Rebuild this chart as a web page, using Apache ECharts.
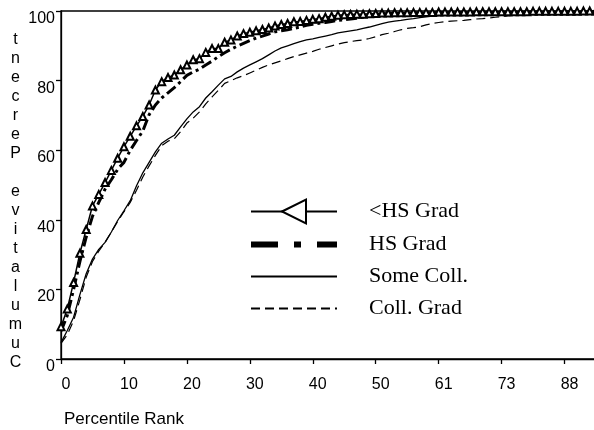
<!DOCTYPE html>
<html>
<head>
<meta charset="utf-8">
<script src="https://cdn.jsdelivr.net/npm/echarts@6/dist/echarts.min.js"></script>
<style>
  html, body { margin: 0; padding: 0; background: #fff; }
  #chart { width: 594px; height: 430px; }
</style>
</head>
<body>
<div id="chart"></div>
<script>
// Percentile rank categories (distinct ranks present in the data)
const percentileRanks = [
  0, 1, 2, 3, 4, 5, 6, 7, 8, 9,
  10, 11, 12, 13, 14, 15, 16, 17, 18, 19,
  20, 21, 22, 23, 24, 25, 26, 27, 28, 29,
  30, 31, 32, 33, 34, 35, 36, 37, 38, 39,
  40, 41, 42, 43, 44, 45, 46, 47, 48, 49,
  50, 51, 52, 53, 54, 55, 56, 57, 58, 59,
  61, 62, 63, 64, 66, 67, 68, 69, 70, 72,
  73, 74, 75, 77, 78, 80, 81, 83, 84, 86,
  88, 89, 91, 93, 95, 97
];

const seriesNames = ['<HS Grad', 'HS Grad', 'Some Coll.', 'Coll. Grad'];

// Cumulative percent by education group
const lessThanHS = [
  9.3, 14.4, 22, 30.4, 37.2, 44, 47.3, 50.7, 54.2, 57.7,
  61, 64, 67, 69.7, 73, 77.3, 79.7, 80.9, 81.6, 83.1,
  84.5, 86, 86.3, 88.1, 89.2, 89.2, 91, 91.7, 92.8, 93.5,
  93.9, 94.3, 94.7, 95.1, 95.7, 96.1, 96.4, 96.9, 97, 97.3,
  97.6, 97.8, 98.2, 98.5, 98.8, 98.9, 99, 99.1, 99.1, 99.2,
  99.3, 99.4, 99.4, 99.5, 99.5, 99.5, 99.6, 99.6, 99.6, 99.6,
  99.7, 99.7, 99.7, 99.7, 99.7, 99.7, 99.8, 99.8, 99.8, 99.8,
  99.8, 99.8, 99.8, 99.8, 99.8, 99.9, 99.9, 99.9, 99.9, 99.9,
  99.9, 99.9, 99.9, 100, 100, 100
];
const hsGrad = [
  8, 12.5, 20, 28, 35, 41, 45, 48.8, 51.5, 54.5,
  56.5, 60, 62.8, 65.5, 70.2, 73, 75, 76.5, 78, 79.7,
  81.5, 82.5, 83.3, 84.5, 85.6, 86.9, 88, 89, 89.9, 90.7,
  91.5, 92.2, 92.8, 93.4, 94, 94.3, 94.6, 95, 95.4, 95.9,
  96.2, 96.5, 96.7, 97, 97.3, 97.5, 97.7, 97.9, 98.2, 98.6,
  98.9, 99.1, 99.2, 99.3, 99.3, 99.4, 99.4, 99.5, 99.5, 99.5,
  99.5, 99.5, 99.6, 99.6, 99.6, 99.6, 99.6, 99.6, 99.7, 99.7,
  99.7, 99.7, 99.7, 99.7, 99.7, 99.7, 99.8, 99.8, 99.8, 99.8,
  99.8, 99.8, 99.8, 99.8, 99.8, 99.8
];
const someColl = [
  4.7, 8.2, 12, 18.5, 24.5, 28.7, 31.5, 33.5, 36.5, 39.8,
  42.6, 45.5, 49.8, 53.5, 56.5, 59.5, 62, 63.2, 64.3, 66.7,
  69, 71, 72.5, 75, 76.8, 78.7, 80.5, 81.2, 82.5, 83.6,
  84.5, 85.4, 86.3, 87.4, 88.5, 89.4, 90, 90.6, 91.2, 91.7,
  92, 92.4, 92.8, 93.2, 93.7, 94, 94.3, 94.6, 95, 95.4,
  95.9, 96.4, 96.8, 97.1, 97.3, 97.6, 97.8, 98.1, 98.3, 98.5,
  98.7, 98.9, 99, 99, 99.1, 99.1, 99.2, 99.2, 99.3, 99.3,
  99.3, 99.4, 99.4, 99.4, 99.5, 99.5, 99.5, 99.5, 99.6, 99.6,
  99.6, 99.6, 99.7, 99.7, 99.7, 99.7
];
const collGrad = [
  4.5, 7, 11, 17, 23.5, 28, 31, 33.5, 36.5, 39.5,
  42.3, 45, 48.5, 52.3, 55.5, 58.5, 61.3, 62.6, 63.3, 65.3,
  67.8, 69.2, 71, 73.3, 75.3, 77.2, 79.2, 80, 80.8, 81.4,
  82.2, 83, 83.8, 84.5, 85.1, 85.7, 86.3, 86.9, 87.4, 87.9,
  88.4, 89, 89.5, 90, 90.5, 90.9, 91.2, 91.5, 91.7, 92.1,
  92.6, 93.2, 93.6, 94.1, 94.6, 95, 95.2, 95.5, 96, 96.4,
  96.7, 96.9, 97.1, 97.2, 97.3, 97.5, 97.7, 97.8, 98, 98.2,
  98.4, 98.6, 98.8, 98.9, 99.1, 99.3, 99.4, 99.5, 99.5, 99.6,
  99.6, 99.6, 99.7, 99.7, 99.7, 99.7
];

// Y axis title, one letter per line, read from bottom to top
const yAxisTitle = 't\nn\ne\nc\nr\ne\nP\n\ne\nv\ni\nt\na\nl\nu\nm\nu\nC';
const xAxisTitle = 'Percentile Rank';

const SANS = 'Liberation Sans, Arial, sans-serif';
const SERIF = 'Liberation Serif, Times New Roman, serif';
const INK = '#000';

const chart = echarts.init(document.getElementById('chart'), null, { renderer: 'canvas' });

chart.setOption({
  animation: false,
  backgroundColor: '#fff',
  title: [
    {
      text: xAxisTitle,
      left: 64,
      top: 411,
      padding: 0,
      textStyle: { fontFamily: SANS, fontSize: 17, fontWeight: 'normal', color: INK }
    },
    {
      text: yAxisTitle,
      left: 15.5,
      top: 30.5,
      padding: 0,
      textAlign: 'center',
      textStyle: { fontFamily: SANS, fontSize: 16, lineHeight: 19, fontWeight: 'normal', color: INK }
    }
  ],
  grid: {
    left: 61, top: 11, bottom: 71, right: -2,
    containLabel: false,
    outerBoundsMode: 'none',
    show: true, borderColor: INK, borderWidth: 1.3, backgroundColor: 'transparent'
  },
  legend: {
    orient: 'vertical',
    left: 248,
    top: 198.5,
    padding: 0,
    itemWidth: 86,
    itemHeight: 30,
    itemGap: 8,
    selectedMode: false,
    textStyle: { fontFamily: SERIF, fontSize: 22, color: INK, padding: [0, 0, 0, 27] },
    data: [
      { name: seriesNames[0], symbolRotate: 90, lineStyle: { width: 2 } },
      { name: seriesNames[1], itemStyle: { opacity: 0 }, lineStyle: { width: 6, type: [27, 16, 7, 16] } },
      { name: seriesNames[2], itemStyle: { opacity: 0 }, lineStyle: { width: 2 } },
      { name: seriesNames[3], itemStyle: { opacity: 0 }, lineStyle: { width: 2, type: [9, 5] } }
    ]
  },
  xAxis: {
    type: 'category',
    data: percentileRanks.map(String),
    boundaryGap: false,
    axisLine: { lineStyle: { color: INK, width: 1.3 } },
    axisTick: { interval: 9, length: 5, lineStyle: { color: INK, width: 1.3 } },
    axisLabel: {
      interval: 9, margin: 18, fontFamily: SANS, fontSize: 16, color: INK,
      padding: [0, 0, 0, 10]
    },
    splitLine: { show: false }
  },
  yAxis: {
    type: 'value',
    min: 0, max: 100, interval: 20,
    axisLine: { show: true, lineStyle: { color: INK, width: 1.3 } },
    axisTick: { show: true, length: 5, lineStyle: { color: INK, width: 1.3 } },
    axisLabel: {
      margin: 6, fontFamily: SANS, fontSize: 16, color: INK,
      lineHeight: 15, verticalAlign: 'top'
    },
    splitLine: { show: false }
  },
  series: [
    {
      name: seriesNames[3], type: 'line', data: collGrad,
      symbol: 'none', z: 2,
      itemStyle: { color: INK },
      lineStyle: { color: INK, width: 1.2, type: [9, 5] }
    },
    {
      name: seriesNames[2], type: 'line', data: someColl,
      symbol: 'none', z: 3,
      itemStyle: { color: INK },
      lineStyle: { color: INK, width: 1.3 }
    },
    {
      name: seriesNames[1], type: 'line', data: hsGrad,
      symbol: 'none', z: 4,
      itemStyle: { color: INK },
      lineStyle: { color: INK, width: 3, type: [11, 4, 3, 4] }
    },
    {
      name: seriesNames[0], type: 'line', data: lessThanHS,
      symbol: 'emptyTriangle', symbolSize: 7, showAllSymbol: true, z: 5,
      itemStyle: { color: INK, borderColor: INK, borderWidth: 1 },
      lineStyle: { color: INK, width: 1.5 }
    }
  ]
});
</script>
</body>
</html>
